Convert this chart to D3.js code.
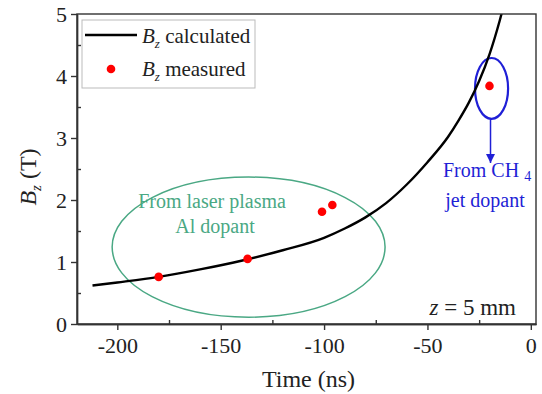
<!DOCTYPE html>
<html>
<head>
<meta charset="utf-8">
<script src="https://cdn.jsdelivr.net/npm/d3@7"></script>
</head>
<body style="margin:0">
<svg id="chart" width="542" height="394" font-family="Liberation Serif"></svg>
<script>
// calculated Bz curve
const curveTime  = [-212, -200, -180, -160, -140, -120, -100, -90, -80, -70, -60, -50, -40, -35, -30, -25, -20, -15, -13];
const curveField = [0.62, 0.67, 0.76, 0.88, 1.02, 1.19, 1.39, 1.54, 1.72, 1.95, 2.25, 2.61, 3.02, 3.28, 3.57, 3.92, 4.35, 4.90, 5.15];
// measured points
const measTime  = [-180, -137, -101, -96, -20];
const measField = [0.76, 1.05, 1.81, 1.92, 3.84];
// axis ticks
const xTicks = [-200, -150, -100, -50, 0];
const xMinor = [-175, -125, -75, -25];
const yTicks = [0, 1, 2, 3, 4, 5];
const yMinor = [0.5, 1.5, 2.5, 3.5, 4.5];

const margin = {top: 14, right: 6, bottom: 70, left: 77};
const W = 542, H = 394;
const width = W - margin.left - margin.right;
const height = H - margin.top - margin.bottom;
const serif = '"Liberation Serif"';

const svg = d3.select("#chart");
const x = d3.scaleLinear().domain([-219.5, 2.5]).range([margin.left, margin.left + width]);
const y = d3.scaleLinear().domain([0, 5]).range([margin.top + height, margin.top]);

const axisColor = "#333";
const green = "#4aa884";
const blue = "#1f1fd6";

// text helper so every label gets the serif face right away
function label(parent, size, fill) {
  return parent.append("text")
    .style("font-family", serif)
    .attr("font-family", "Liberation Serif")
    .attr("font-size", size).attr("fill", fill);
}

svg.append("clipPath").attr("id", "plotClip")
  .append("rect").attr("x", margin.left).attr("y", margin.top).attr("width", width).attr("height", height);

// ellipses (annotations)
svg.append("ellipse")
  .attr("cx", x(-136.5)).attr("cy", y(1.24))
  .attr("rx", x(-136.5 + 66) - x(-136.5)).attr("ry", y(0) - y(1.13))
  .attr("fill", "none").attr("stroke", green).attr("stroke-width", 1.5);

svg.append("ellipse")
  .attr("cx", x(-19)).attr("cy", y(3.8))
  .attr("rx", x(-19 + 8) - x(-19)).attr("ry", y(0) - y(0.49))
  .attr("fill", "none").attr("stroke", blue).attr("stroke-width", 2.2);

// curve
const line = d3.line().x(d => x(d[0])).y(d => y(d[1])).curve(d3.curveMonotoneX);
svg.append("path")
  .datum(d3.zip(curveTime, curveField))
  .attr("clip-path", "url(#plotClip)")
  .attr("d", line)
  .attr("fill", "none").attr("stroke", "#000").attr("stroke-width", 2.4);

// measured points
svg.append("g").selectAll("circle")
  .data(d3.zip(measTime, measField))
  .join("circle")
  .attr("cx", d => x(d[0])).attr("cy", d => y(d[1]))
  .attr("r", 4.3).attr("fill", "#f00");

// frame
svg.append("rect")
  .attr("x", margin.left).attr("y", margin.top).attr("width", width).attr("height", height)
  .attr("fill", "none").attr("stroke", axisColor).attr("stroke-width", 1.4);

// axes
const xAxis = svg.append("g").attr("transform", `translate(0,${margin.top + height})`)
  .call(d3.axisBottom(x).tickValues(xTicks).tickSize(6).tickSizeOuter(0).tickFormat(d => String(d)));
const xAxisMinor = svg.append("g").attr("transform", `translate(0,${margin.top + height})`)
  .call(d3.axisBottom(x).tickValues(xMinor).tickSize(-4).tickSizeOuter(0).tickFormat(""));
const yAxis = svg.append("g").attr("transform", `translate(${margin.left},0)`)
  .call(d3.axisLeft(y).tickValues(yTicks).tickSize(6).tickSizeOuter(0).tickFormat(d => String(d)));
const yAxisMinor = svg.append("g").attr("transform", `translate(${margin.left},0)`)
  .call(d3.axisLeft(y).tickValues(yMinor).tickSize(-4).tickSizeOuter(0).tickFormat(""));

[xAxis, xAxisMinor, yAxis, yAxisMinor].forEach(g => {
  g.attr("font-family", "Liberation Serif").attr("font-size", 22);
  g.select(".domain").attr("stroke", axisColor).attr("stroke-width", 1.4);
  g.selectAll(".tick line").attr("stroke", axisColor).attr("stroke-width", 1.4);
  g.selectAll(".tick text")
    .style("font-family", serif).attr("font-family", "Liberation Serif")
    .attr("font-size", 22).attr("fill", "#222");
});
xAxis.selectAll(".tick text").attr("dy", "0.9em");
yAxis.selectAll(".tick text").attr("dx", "-0.05em");

// axis titles
label(svg, 24, "#222")
  .attr("x", margin.left + width / 2 + 2).attr("y", 387)
  .attr("text-anchor", "middle")
  .text("Time (ns)");

const yt = label(svg, 24, "#222")
  .attr("transform", `translate(36,${margin.top + height / 2 + 8}) rotate(-90)`)
  .attr("text-anchor", "middle");
yt.append("tspan").attr("font-style", "italic").text("B");
yt.append("tspan").attr("font-style", "italic").attr("font-size", 15).attr("dy", 5).text("z");
yt.append("tspan").attr("dy", -5).text(" (T)");

// legend
const lg = svg.append("g");
lg.append("rect").attr("x", 82).attr("y", 20).attr("width", 173).attr("height", 68)
  .attr("fill", "#fff").attr("stroke", "#bbb").attr("stroke-width", 1);
lg.append("line").attr("x1", 85).attr("x2", 137).attr("y1", 35).attr("y2", 35)
  .attr("stroke", "#000").attr("stroke-width", 2.4);
lg.append("circle").attr("cx", 111).attr("cy", 69).attr("r", 4.3).attr("fill", "#f00");
const legendLabels = ["calculated", "measured"];
legendLabels.forEach((lab, i) => {
  const t = label(lg, 21, "#222").attr("x", 142).attr("y", 43 + i * 33);
  t.append("tspan").attr("font-style", "italic").text("B");
  t.append("tspan").attr("font-style", "italic").attr("font-size", 13).attr("dy", 5).text("z");
  t.append("tspan").attr("dy", -5).text(" " + lab);
});

// z = 5 mm
const zt = label(svg, 23, "#222").attr("x", 516).attr("y", 315).attr("text-anchor", "end");
zt.append("tspan").attr("font-style", "italic").text("z");
zt.append("tspan").text(" = 5 mm");

// green annotation
label(svg, 20, green).attr("x", 212).attr("y", 208).attr("text-anchor", "middle").text("From laser plasma");
label(svg, 20, green).attr("x", 215).attr("y", 233).attr("text-anchor", "middle").text("Al dopant");

// blue annotation
svg.append("defs").append("marker").attr("id", "arr")
  .attr("viewBox", "0 0 10 10").attr("refX", 10).attr("refY", 5)
  .attr("markerWidth", 9).attr("markerHeight", 13).attr("markerUnits", "userSpaceOnUse")
  .attr("orient", "auto")
  .append("path").attr("d", "M0,0 L10,5 L0,10 z").attr("fill", blue);
svg.append("line")
  .attr("x1", x(-19.5)).attr("x2", x(-19.5))
  .attr("y1", y(3.8) + (y(0) - y(0.49))).attr("y2", 163)
  .attr("stroke", blue).attr("stroke-width", 1.5).attr("marker-end", "url(#arr)");
const bt = label(svg, 20, blue).attr("x", 443).attr("y", 177);
bt.append("tspan").text("From CH ");
bt.append("tspan").attr("font-size", 14).attr("dy", 4).text("4");
label(svg, 20, blue).attr("x", 485).attr("y", 207).attr("text-anchor", "middle").text("jet dopant");
</script>
</body>
</html>
